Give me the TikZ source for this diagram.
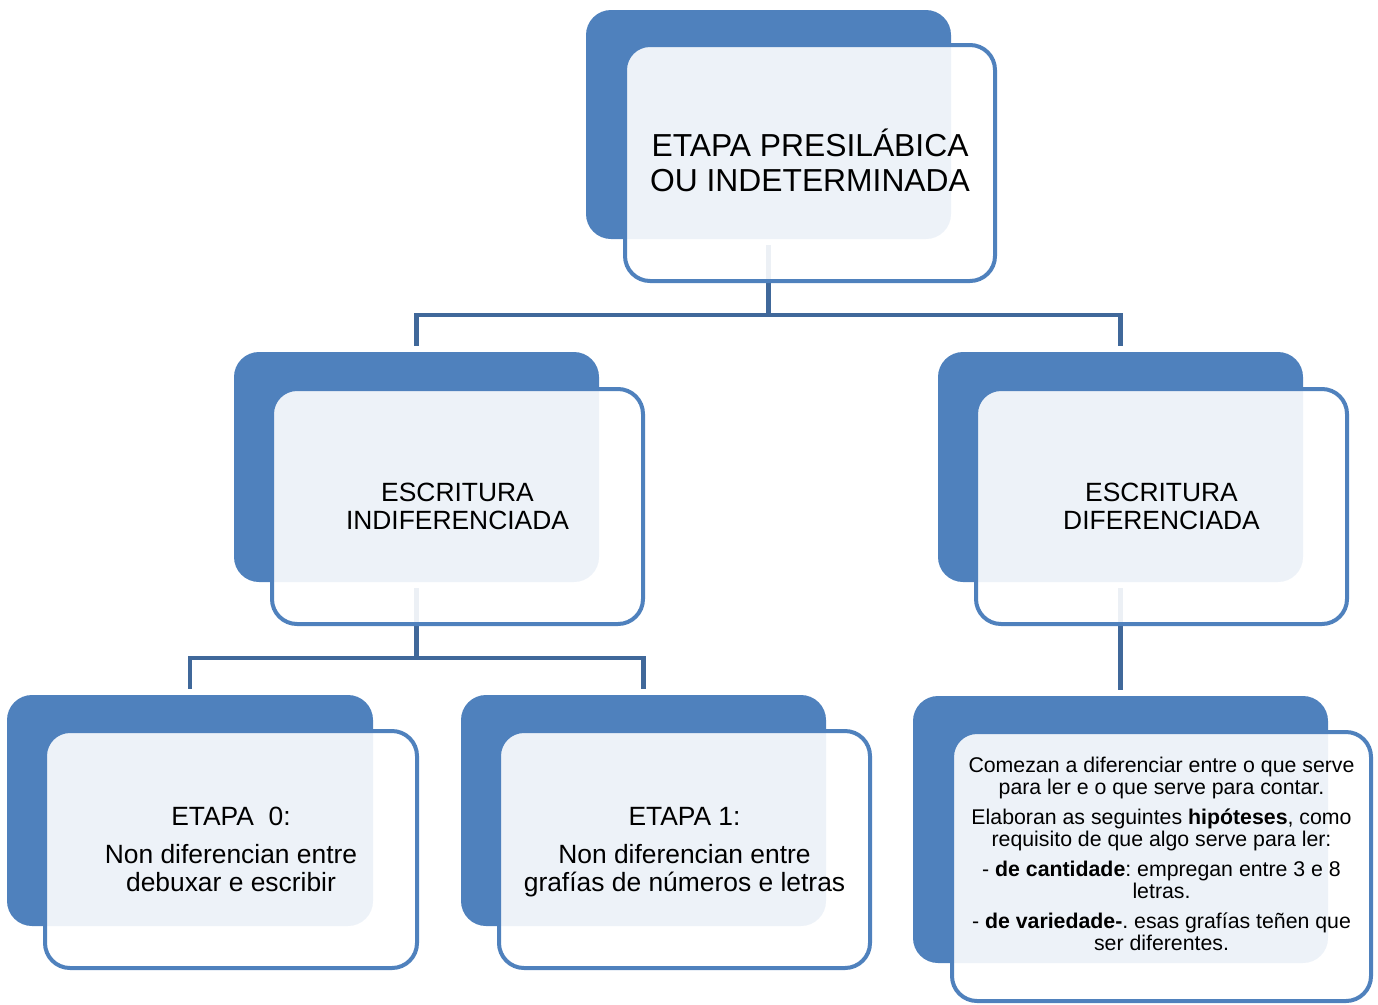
\documentclass[tikz,border=0pt]{standalone}
\usepackage{fontspec}
\setmainfont{Liberation Sans}
\frenchspacing
\definecolor{accent}{RGB}{79,129,189}
\definecolor{connc}{RGB}{64,104,154}
\begin{document}
\begin{tikzpicture}[x=1pt,y=1pt,
  backbox/.style={rectangle, rounded corners=25pt, fill=accent, draw=none, inner sep=0pt},
  frontbox/.style={rectangle, rounded corners=25pt, draw=accent, line width=4pt, fill=white, fill opacity=0.9, text opacity=1, inner sep=0pt, align=center},
  conn/.style={draw=connc, line width=4.5pt, shorten <=6pt, shorten >=6pt},
  bigtxt/.style={font=\fontsize{31.8}{35}\selectfont\frenchspacing},
  midtxt/.style={font=\fontsize{26.4}{28}\selectfont\frenchspacing},
  smalltxt/.style={font=\fontsize{21.3}{22}\selectfont\frenchspacing, align=center}
]
\useasboundingbox (0,0) rectangle (1378,-1004);

% back boxes
\node[backbox, minimum width=365pt, minimum height=229pt] (topB) at (768.5,-124.5) {};
\node[backbox, minimum width=365pt, minimum height=230pt] (mlB) at (416.5,-467) {};
\node[backbox, minimum width=365pt, minimum height=230pt] (mrB) at (1120.5,-467) {};
\node[backbox, minimum width=366pt, minimum height=231pt] (blB) at (190,-810.5) {};
\node[backbox, minimum width=365pt, minimum height=231pt] (bmB) at (643.5,-810.5) {};
\node[backbox, minimum width=415pt, minimum height=267pt] (brB) at (1120.5,-829.5) {};

% connectors
\draw[conn] (topB.south) -- ++(0,-76) -| (mlB.north);
\draw[conn] (topB.south) -- ++(0,-76) -| (mrB.north);
\draw[conn] (mlB.south) -- ++(0,-76) -| (blB.north);
\draw[conn] (mlB.south) -- ++(0,-76) -| (bmB.north);
\draw[conn] (mrB.south) -- (brB.north);

% front boxes
\node[frontbox, bigtxt, text depth=6pt, minimum width=370pt, minimum height=236pt] (topF) at (810,-163) {ETAPA PRESILÁBICA\\OU INDETERMINADA};
\node[frontbox, midtxt, minimum width=371pt, minimum height=235pt] (mlF) at (457.5,-506.5) {ESCRITURA\\INDIFERENCIADA};
\node[frontbox, midtxt, minimum width=371pt, minimum height=235pt] (mrF) at (1161.5,-506.5) {ESCRITURA\\DIFERENCIADA};
\node[frontbox, midtxt, minimum width=372pt, minimum height=237pt] (blF) at (231,-849.5) {ETAPA~~0:\\[10pt]Non diferencian entre\\debuxar e escribir};
\node[frontbox, midtxt, text depth=0pt, minimum width=371pt, minimum height=237pt] (bmF) at (684.5,-849.5) {ETAPA 1:\\[10pt]Non diferencian entre\\grafías de números e letras};
\node[frontbox, minimum width=419pt, minimum height=269pt] (brF) at (1161.5,-866.5) {};
\node[smalltxt] (brT) at (1161.5,-853.5) {Comezan a diferenciar entre o que serve\\para ler e o que serve para contar.\\[8pt]Elaboran as seguintes \textbf{hipóteses}, como\\requisito de que algo serve para ler:\\[8pt]- \textbf{de cantidade}: empregan entre 3 e 8\\letras.\\[8pt]- \textbf{de variedade-}. esas grafías teñen que\\ser diferentes.};
\end{tikzpicture}
\end{document}
